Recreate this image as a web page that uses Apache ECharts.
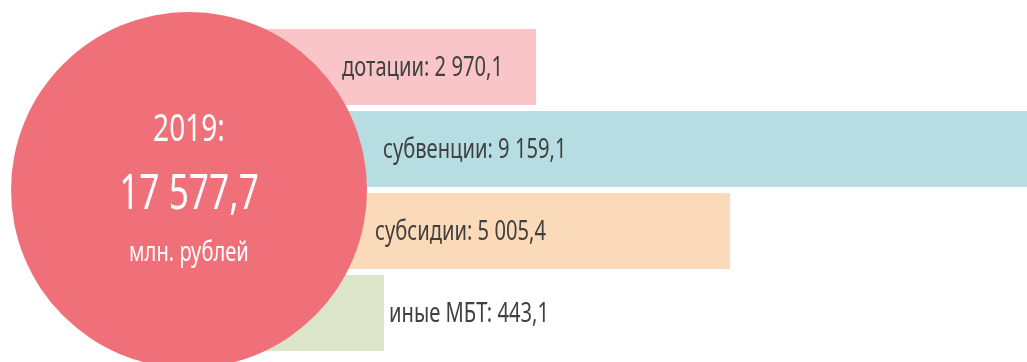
<!DOCTYPE html>
<html>
<head>
<meta charset="utf-8">
<script src="https://cdn.jsdelivr.net/npm/echarts@6/dist/echarts.min.js"></script>
<style>
  html, body { margin: 0; padding: 0; background: #ffffff; }
  #chart { width: 1027px; height: 362px; }
</style>
</head>
<body>
<div id="chart"></div>
<script>
// Transfers by type, mln roubles
const categories = ['дотации', 'субвенции', 'субсидии', 'иные МБТ'];
const values = [2970.1, 9159.1, 5005.4, 443.1];
const totalYear = '2019';
const totalValue = 17577.7;
const totalUnit = 'млн. рублей';

const barColors = ['#F9C5C9', '#B6DEE2', '#FADAB8', '#DCE5CA'];
const circleColor = '#F07079';
const textColor = '#404040';
const FONT_FAMILY = '"Noto Sans", "DejaVu Sans", sans-serif';
const NARROW = 0.72;       // horizontal squeeze giving a condensed face
const MIN_BAR = 131;       // shortest bar drawn, px

// Russian number format: space grouping, comma decimal
function fmt(v) {
  const parts = v.toFixed(1).split('.');
  const int = parts[0].replace(/\B(?=(\d{3})+(?!\d))/g, ' ');
  return int + ',' + parts[1];
}

// where each bar's caption starts: px from the bar's base, or after the bar's end
const captionPlacement = [
  { from: 'base', offset: 89 },
  { from: 'base', offset: 130 },
  { from: 'base', offset: 122 },
  { from: 'end', offset: 5 }
];

const chart = echarts.init(document.getElementById('chart'), null, { renderer: 'canvas' });

const circleCenter = [189, 190];
const circleRadius = 178;

chart.setOption({
  animation: false,
  grid: { left: 253, top: 26, right: 0, height: 328, containLabel: false },
  xAxis: { type: 'value', min: 0, max: 8120, show: false },
  yAxis: { type: 'category', data: categories, inverse: true, show: false },
  series: [
    {
      type: 'bar',
      z: 2,
      barWidth: 76,
      barMinHeight: MIN_BAR,
      clip: true,
      silent: true,
      data: values.map((v, i) => ({ value: v, itemStyle: { color: barColors[i] } }))
    },
    {
      type: 'pie',
      z: 5,
      silent: true,
      center: circleCenter,
      radius: [0, circleRadius],
      itemStyle: { color: circleColor },
      emphasis: { disabled: true },
      label: { show: false },
      labelLine: { show: false },
      data: [{ value: totalValue, name: totalYear }]
    }
  ]
});

// Captions drawn as graphic text so the face can be narrowed
function textEl(str, x, y, size, color, align) {
  return {
    type: 'text',
    x: x, y: y,
    scaleX: NARROW, scaleY: 1,
    z: 100,
    silent: true,
    style: {
      text: str,
      fill: color,
      font: size + 'px ' + FONT_FAMILY,
      align: align,
      verticalAlign: 'middle'
    }
  };
}

const elements = [];
values.forEach((v, i) => {
  const base = chart.convertToPixel({ seriesIndex: 0 }, [0, i]);
  const end = chart.convertToPixel({ seriesIndex: 0 }, [v, i]);
  const barEnd = Math.max(end[0], base[0] + MIN_BAR);
  const p = captionPlacement[i];
  const x = p.from === 'base' ? base[0] + p.offset : barEnd + p.offset;
  elements.push(textEl(categories[i] + ': ' + fmt(v), x, base[1] + 1, 28, textColor, 'left'));
});

// total inside the circle
const cx = circleCenter[0], cy = circleCenter[1];
elements.push(textEl(totalYear + ':', cx, cy - 60, 39, '#ffffff', 'center'));
elements.push(textEl(fmt(totalValue), cx, cy + 5, 49, '#ffffff', 'center'));
elements.push(textEl(totalUnit, cx, cy + 63, 28, '#ffffff', 'center'));

chart.setOption({ graphic: { elements: elements } });
</script>
</body>
</html>
